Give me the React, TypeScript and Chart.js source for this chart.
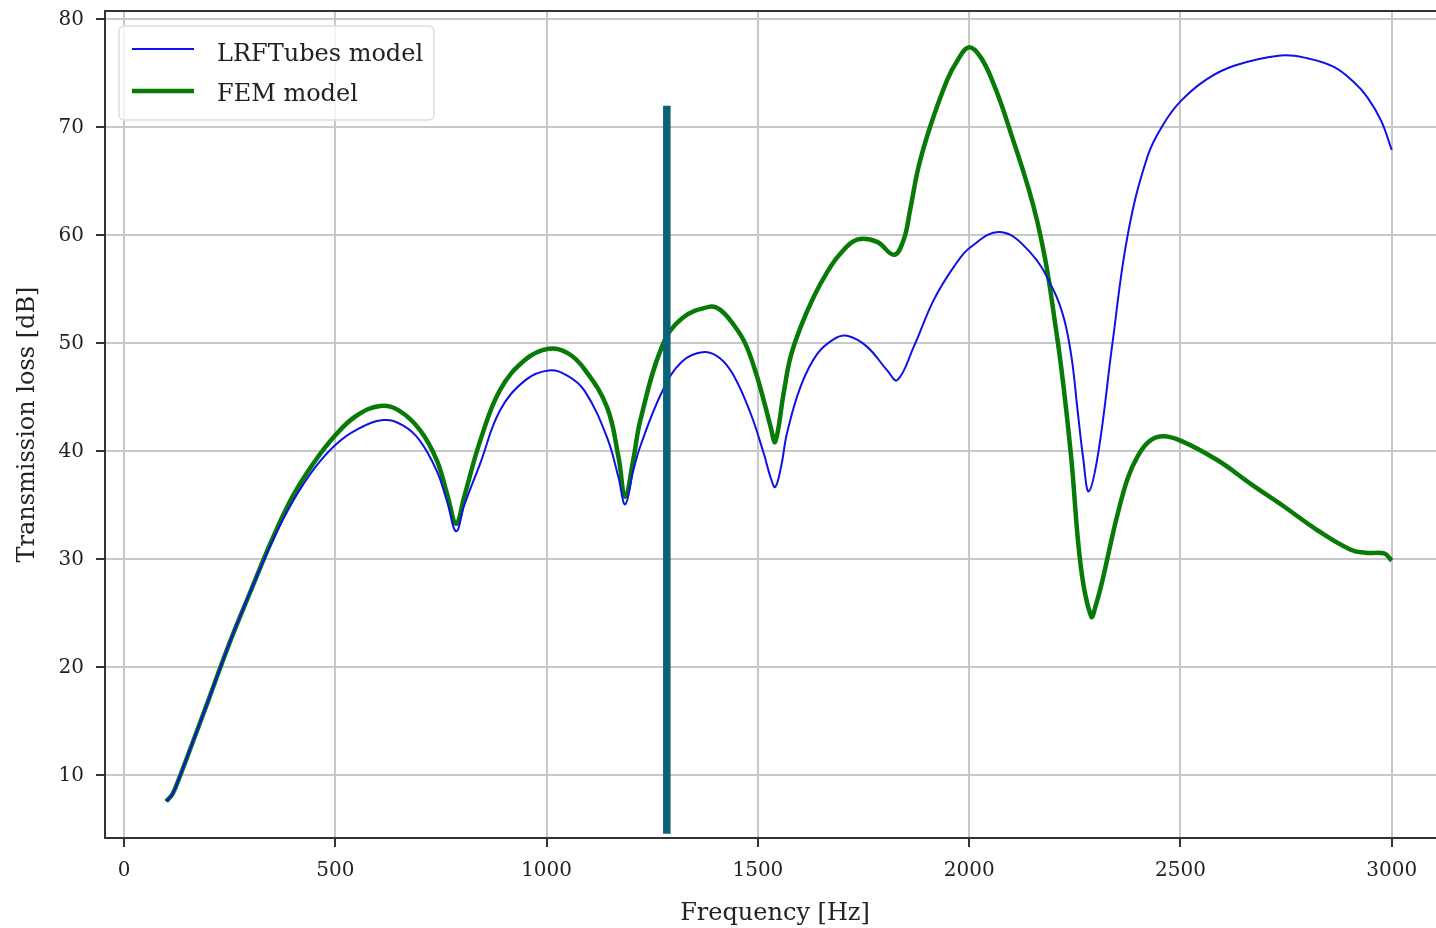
import React, { useEffect, useRef } from 'react';
import { Chart, registerables } from 'chart.js';

Chart.register(...registerables);

const X_TICKS = [0, 500, 1000, 1500, 2000, 2500, 3000];
const Y_TICKS = [10, 20, 30, 40, 50, 60, 70, 80];
const X_TITLE = 'Frequency [Hz]';
const Y_TITLE = 'Transmission loss [dB]';
const LEGEND_LABELS = ['LRFTubes model', 'FEM model'];

const LRF_FREQ = [100, 115, 130, 160, 200, 250, 300, 350, 400, 450, 500, 550, 614, 660, 700, 740, 765, 786, 805, 843, 890, 950, 1005, 1050, 1090, 1143, 1170, 1186, 1205, 1222, 1273, 1320, 1373, 1411, 1443, 1482, 1514, 1530, 1541, 1555, 1569, 1601, 1640, 1680, 1711, 1758, 1806, 1830, 1869, 1916, 1964, 2003, 2074, 2145, 2200, 2225, 2243, 2256, 2270, 2283, 2306, 2339, 2375, 2422, 2460, 2500, 2560, 2627, 2737, 2800, 2863, 2910, 2942, 2975, 3000];
const LRF_TL = [7.6, 8.3, 9.7, 12.8, 17.0, 22.3, 27.1, 31.6, 35.4, 38.4, 40.6, 42.0, 42.9, 42.4, 41.0, 38.2, 35.3, 32.6, 35.0, 38.9, 43.8, 46.6, 47.5, 47.0, 45.6, 41.3, 37.6, 35.1, 38.2, 40.5, 45.5, 48.3, 49.2, 48.6, 47.0, 43.6, 39.8, 37.6, 36.7, 38.6, 41.7, 46.0, 49.0, 50.4, 50.7, 49.7, 47.5, 46.6, 49.7, 54.0, 57.1, 58.9, 60.3, 58.4, 54.9, 52.2, 48.5, 44.0, 39.3, 36.3, 40.0, 50.0, 60.0, 67.3, 70.3, 72.4, 74.4, 75.7, 76.65, 76.4, 75.6, 74.2, 72.8, 70.6, 67.9];

const FEM_FREQ = [100, 115, 130, 160, 200, 250, 300, 350, 400, 450, 500, 550, 606, 650, 700, 740, 765, 786, 805, 843, 890, 950, 1005, 1050, 1090, 1143, 1170, 1186, 1205, 1222, 1273, 1320, 1387, 1411, 1443, 1470, 1495, 1514, 1530, 1541, 1561, 1577, 1601, 1632, 1664, 1695, 1735, 1782, 1822, 1845, 1860, 1880, 1908, 1948, 1971, 1999, 2027, 2058, 2090, 2161, 2208, 2240, 2264, 2289, 2300, 2315, 2335, 2350, 2375, 2398, 2425, 2457, 2500, 2587, 2666, 2745, 2824, 2903, 2943, 2982, 3000];
const FEM_TL = [7.6, 8.3, 9.7, 12.8, 17.0, 22.3, 27.1, 31.8, 35.9, 39.0, 41.5, 43.3, 44.2, 43.8, 42.0, 39.2, 36.0, 33.3, 35.8, 41.0, 45.7, 48.5, 49.5, 49.1, 47.6, 44.1, 39.5, 35.8, 39.2, 42.9, 49.7, 52.3, 53.4, 53.1, 51.7, 50.0, 47.3, 44.7, 42.3, 40.9, 45.4, 48.7, 51.5, 54.3, 56.6, 58.3, 59.6, 59.4, 58.2, 59.6, 62.3, 66.3, 70.1, 74.4, 76.1, 77.4, 76.5, 74.0, 70.5, 61.3, 50.6, 40.0, 29.4, 24.7, 25.8, 28.0, 31.5, 34.0, 37.5, 39.5, 40.9, 41.4, 41.0, 39.2, 37.0, 34.9, 32.7, 30.9, 30.6, 30.55, 29.9];

const MARKER_FREQ = [1284.5, 1284.5];
const MARKER_TL = [4.6, 72.0];

const FONT = "'DejaVu Serif', serif";

const toPoints = (xs: number[], ys: number[]) => xs.map((x, i) => ({ x, y: ys[i] }));

const topSpine = {
  id: 'topSpine',
  afterDraw(chart: any) {
    const { ctx, chartArea } = chart;
    ctx.save();
    ctx.strokeStyle = '#333333';
    ctx.lineWidth = 2;
    ctx.beginPath();
    ctx.moveTo(chartArea.left - 1, chartArea.top);
    ctx.lineTo(chartArea.right, chartArea.top);
    ctx.stroke();
    ctx.restore();
  },
};

const legendBox = {
  id: 'legendBox',
  afterDatasetsDraw(chart: any) {
    const { ctx } = chart;
    const x0 = 119, y0 = 26, w = 315, h = 94, r = 5;
    ctx.save();
    ctx.beginPath();
    ctx.moveTo(x0 + r, y0);
    ctx.lineTo(x0 + w - r, y0);
    ctx.arcTo(x0 + w, y0, x0 + w, y0 + r, r);
    ctx.lineTo(x0 + w, y0 + h - r);
    ctx.arcTo(x0 + w, y0 + h, x0 + w - r, y0 + h, r);
    ctx.lineTo(x0 + r, y0 + h);
    ctx.arcTo(x0, y0 + h, x0, y0 + h - r, r);
    ctx.lineTo(x0, y0 + r);
    ctx.arcTo(x0, y0, x0 + r, y0, r);
    ctx.closePath();
    ctx.fillStyle = 'rgba(255,255,255,0.8)';
    ctx.fill();
    ctx.strokeStyle = '#dddddd';
    ctx.lineWidth = 1.5;
    ctx.stroke();
    const ds = chart.data.datasets;
    const rows = [
      { d: ds[1], y: 49, base: 61 },
      { d: ds[2], y: 91, base: 101 },
    ];
    rows.forEach((row, i) => {
      ctx.strokeStyle = row.d.borderColor;
      ctx.lineWidth = row.d.borderWidth;
      ctx.beginPath();
      ctx.moveTo(132, row.y);
      ctx.lineTo(194, row.y);
      ctx.stroke();
      ctx.fillStyle = '#222222';
      ctx.font = `24px ${FONT}`;
      ctx.textBaseline = 'alphabetic';
      ctx.textAlign = 'left';
      ctx.fillText(LEGEND_LABELS[i], 217, row.base);
    });
    ctx.restore();
  },
};

export default function App() {
  const ref = useRef<HTMLCanvasElement | null>(null);

  useEffect(() => {
    if (!ref.current) return;
    const chart = new Chart(ref.current, {
      type: 'line',
      data: {
        datasets: [
          {
            label: 'marker',
            data: toPoints(MARKER_FREQ, MARKER_TL),
            borderColor: '#0b6178',
            borderWidth: 7.5,
            borderCapStyle: 'butt',
            pointRadius: 0,
            tension: 0,
            fill: false,
          },
          {
            label: LEGEND_LABELS[0],
            data: toPoints(LRF_FREQ, LRF_TL),
            borderColor: '#1010e8',
            borderWidth: 2,
            pointRadius: 0,
            tension: 0.4,
            fill: false,
          },
          {
            label: LEGEND_LABELS[1],
            data: toPoints(FEM_FREQ, FEM_TL),
            borderColor: '#087a08',
            borderWidth: 4.5,
            pointRadius: 0,
            tension: 0.4,
            fill: false,
          },
        ],
      },
      options: {
        responsive: false,
        animation: false,
        events: [],
        layout: { autoPadding: false, padding: { left: 0, top: 11, right: 5, bottom: 0 } },
        plugins: { legend: { display: false }, tooltip: { enabled: false }, title: { display: false } },
        scales: {
          x: {
            type: 'linear',
            min: -45,
            max: 3126,
            afterBuildTicks: (s: any) => { s.ticks = X_TICKS.map((v) => ({ value: v })); },
            afterFit: (s: any) => { s.height = 90; s.paddingLeft = 0; s.paddingRight = 0; s.paddingTop = 0; s.paddingBottom = 0; },
            grid: { color: '#c8c8c8', lineWidth: 2, tickColor: '#333333', tickLength: 9, tickWidth: 2 },
            border: { display: true, color: '#333333', width: 2 },
            ticks: { color: '#222222', font: { family: FONT, size: 20 }, padding: 12, maxRotation: 0, autoSkip: false, callback: (v: any) => String(v) },
            title: { display: true, text: X_TITLE, color: '#222222', font: { family: FONT, size: 24 }, padding: { top: 0, bottom: 0 } },
          },
          y: {
            type: 'linear',
            min: 4.21,
            max: 80.77,
            afterBuildTicks: (s: any) => { s.ticks = Y_TICKS.map((v) => ({ value: v })); },
            afterFit: (s: any) => { s.width = 105; s.paddingLeft = 0; s.paddingRight = 0; s.paddingTop = 0; s.paddingBottom = 0; },
            grid: { color: '#c8c8c8', lineWidth: 2, tickColor: '#333333', tickLength: 9, tickWidth: 2 },
            border: { display: true, color: '#333333', width: 2 },
            ticks: { color: '#222222', font: { family: FONT, size: 20 }, padding: 12, autoSkip: false, callback: (v: any) => String(v) },
            title: { display: true, text: Y_TITLE, color: '#222222', font: { family: FONT, size: 24 }, padding: { top: 13, bottom: 0 } },
          },
        },
      },
      plugins: [topSpine, legendBox],
    } as any);
    return () => chart.destroy();
  }, []);

  return (
    <div style={{ position: 'fixed', left: 0, top: 0, width: 1436, height: 928, overflow: 'hidden', background: '#ffffff' }}>
      <canvas ref={ref} width={1450} height={928} style={{ display: 'block' }} />
    </div>
  );
}
